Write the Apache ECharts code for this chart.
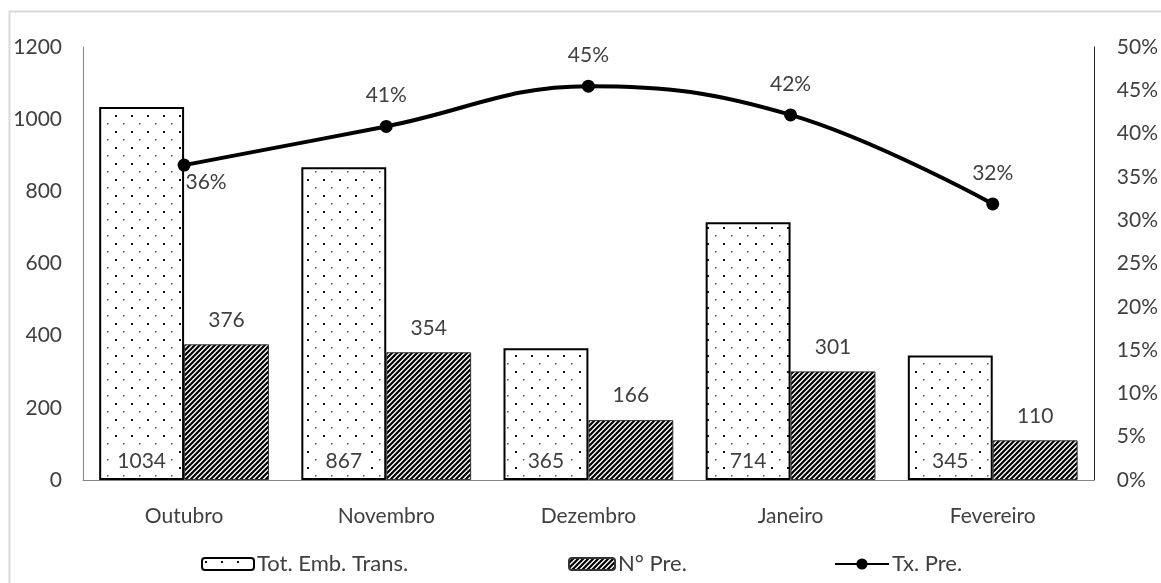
<!DOCTYPE html>
<html>
<head>
<meta charset="utf-8">
<script src="https://cdn.jsdelivr.net/npm/echarts@6/dist/echarts.min.js"></script>
<style>
  html, body { margin: 0; padding: 0; background: #fff; }
  #chart { width: 1161px; height: 583px; }
</style>
</head>
<body>
<div id="chart"></div>
<script>
// Monthly data
const months = ['Outubro', 'Novembro', 'Dezembro', 'Janeiro', 'Fevereiro'];
const totEmbTrans = [1034, 867, 365, 714, 345];
const nPre = [376, 354, 166, 301, 110];
const txPre = [0.3636, 0.4083, 0.4548, 0.4216, 0.3188];

const FONT = 'Lato, "Open Sans", sans-serif';
const TEXT = '#404040';
const FS = 21;

// Dotted fill tile
function dotPattern() {
  const c = document.createElement('canvas');
  c.width = 16; c.height = 16;
  const g = c.getContext('2d');
  g.fillStyle = '#fff';
  g.fillRect(0, 0, 16, 16);
  g.fillStyle = '#111';
  g.fillRect(3, 3, 2, 2);
  g.fillStyle = '#555';
  g.fillRect(11, 11, 1.5, 1.5);
  return c;
}

// Diagonal hatch tile
function hatchPattern() {
  const s = 5;
  const c = document.createElement('canvas');
  c.width = s; c.height = s;
  const g = c.getContext('2d');
  g.fillStyle = '#fff';
  g.fillRect(0, 0, s, s);
  g.strokeStyle = '#000';
  g.lineWidth = 2.2;
  g.beginPath();
  g.moveTo(-1, s + 1); g.lineTo(s + 1, -1);
  g.moveTo(-1, 1); g.lineTo(1, -1);
  g.moveTo(s - 1, s + 1); g.lineTo(s + 1, s - 1);
  g.stroke();
  return c;
}

const dots = { image: dotPattern(), repeat: 'repeat' };
const hatch = { image: hatchPattern(), repeat: 'repeat' };

const chart = echarts.init(document.getElementById('chart'), null, { renderer: 'canvas' });

const legendText = { fontFamily: FONT, fontSize: 22, color: TEXT, padding: [0, 0, 0, -2] };

chart.setOption({
  animation: false,
  backgroundColor: '#fff',
  textStyle: { fontFamily: FONT },
  graphic: [{
    type: 'rect',
    shape: { x: 9.5, y: 11.5, width: 1160, height: 600 },
    style: { fill: 'none', stroke: '#d9d9d9', lineWidth: 2 },
    silent: true
  }],
  grid: { left: 83, right: 67, top: 47, bottom: 103 },
  legend: [
    { data: ['Tot. Emb. Trans.'], left: 201, top: 553, itemWidth: 52, itemHeight: 12, textStyle: legendText, padding: 0 },
    { data: ['N° Pre.'], left: 568, top: 553, itemWidth: 46, itemHeight: 12, textStyle: legendText, padding: 0 },
    { data: ['Tx. Pre.'], left: 834, top: 553, itemWidth: 54, itemHeight: 14, textStyle: legendText, padding: 0 }
  ],
  xAxis: {
    type: 'category',
    data: months,
    axisLine: { lineStyle: { color: '#868686', width: 1 } },
    axisTick: { show: false },
    axisLabel: { fontFamily: FONT, fontSize: FS, color: TEXT, margin: 26 }
  },
  yAxis: [
    {
      type: 'value', min: 0, max: 1200, interval: 200,
      axisLine: { show: true, lineStyle: { color: '#868686' } },
      axisTick: { show: false },
      splitLine: { show: false },
      axisLabel: { fontFamily: FONT, fontSize: FS, color: TEXT, margin: 21, formatter: v => String(v) }
    },
    {
      type: 'value', min: 0, max: 0.5, interval: 0.05,
      position: 'right',
      axisLine: { show: true, lineStyle: { color: '#222' } },
      axisTick: { show: false },
      splitLine: { show: false },
      axisLabel: {
        fontFamily: FONT, fontSize: FS, color: TEXT, margin: 23,
        formatter: v => Math.round(v * 100) + '%'
      }
    }
  ],
  series: [
    {
      name: 'Tot. Emb. Trans.',
      type: 'bar',
      data: totEmbTrans,
      barGap: '0%',
      barCategoryGap: '16%',
      itemStyle: { color: dots, borderColor: '#000', borderWidth: 2 },
      label: {
        show: true, position: 'insideBottom', distance: 7,
        fontFamily: FONT, fontSize: FS, color: TEXT,
        backgroundColor: '#fff', padding: [1, 3]
      }
    },
    {
      name: 'N° Pre.',
      type: 'bar',
      data: nPre,
      itemStyle: { color: hatch, borderColor: '#333', borderWidth: 1 },
      label: {
        show: true, position: 'top', distance: 14,
        fontFamily: FONT, fontSize: FS, color: TEXT
      }
    },
    {
      name: 'Tx. Pre.',
      type: 'line',
      yAxisIndex: 1,
      data: txPre.map((v, i) => i === 0
        ? { value: v, label: { position: 'bottom', distance: 0, offset: [22, 0] } }
        : v),
      smooth: 0.4,
      symbol: 'circle',
      symbolSize: 13,
      lineStyle: { color: '#000', width: 4 },
      itemStyle: { color: '#000' },
      z: 5,
      label: {
        show: true, position: 'top', distance: 14,
        fontFamily: FONT, fontSize: FS, color: TEXT,
        formatter: p => Math.round(p.value * 100) + '%'
      }
    }
  ]
});
</script>
</body>
</html>
